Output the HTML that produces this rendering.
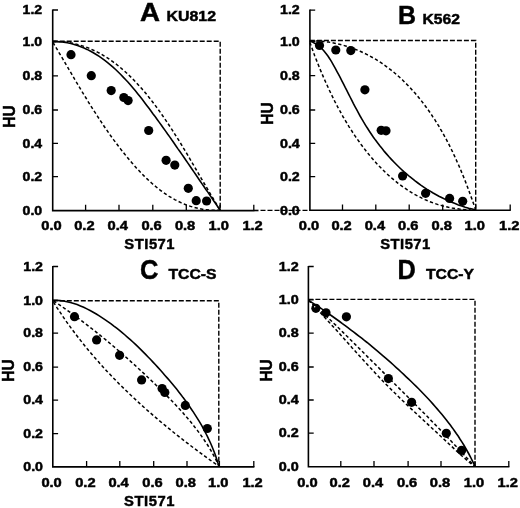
<!DOCTYPE html>
<html><head><meta charset="utf-8"><title>Isobolograms</title>
<style>
html,body{margin:0;padding:0;background:#fff;}
svg{display:block;will-change:transform;}
text{font-family:"Liberation Sans",sans-serif;font-weight:bold;fill:#000;stroke:#000;stroke-width:0.45;}
.ax{fill:none;stroke:#000;stroke-width:1.6;stroke-linejoin:miter;}
.tk{fill:none;stroke:#000;stroke-width:1.3;}
.bx{fill:none;stroke:#000;stroke-width:1.4;stroke-dasharray:5 2;}
.dt{fill:none;stroke:#000;stroke-width:1.5;stroke-dasharray:3.3 2.4;}
.sl{fill:none;stroke:#000;stroke-width:1.6;}
</style></head><body>
<svg width="520" height="508" viewBox="0 0 520 508">
<rect width="520" height="508" fill="#fff"/>
<g><path d="M52.7 9.4 V210.6 H254.4" class="ax"/><path d="M52.7 176.6h5.3M52.7 143.3h5.3M52.7 110.0h5.3M52.7 75.8h5.3M52.7 41.5h5.3M52.7 10.0h5.3M85.6 210.6v-5.8M119.0 210.6v-5.8M152.8 210.6v-5.8M186.3 210.6v-5.8M220.0 210.6v-5.8M253.8 210.6v-5.8" class="tk"/><path d="M52.7 41.3H220.2V210.6" class="bx"/><path d="M52.7 41.6L56.5 41.6L60.3 41.7L64.0 42.0L67.6 42.4L71.2 43.0L74.7 43.7L78.2 44.6L81.6 45.6L85.0 46.7L88.3 47.9L91.5 49.3L94.7 50.8L97.9 52.3L101.0 54.0L104.0 55.8L107.0 57.7L109.9 59.6L112.8 61.7L115.7 63.8L118.5 66.0L121.2 68.3L123.9 70.6L126.6 73.0L129.2 75.5L131.8 78.0L134.3 80.6L136.8 83.2L139.3 85.9L141.7 88.6L144.1 91.3L146.4 94.1L148.7 96.9L151.0 99.8L153.2 102.7L155.4 105.6L157.6 108.6L159.7 111.5L161.8 114.5L163.9 117.5L166.0 120.6L168.0 123.6L170.0 126.6L172.0 129.7L174.0 132.8L175.9 135.8L177.9 138.9L179.8 142.0L181.7 145.1L183.5 148.2L185.4 151.3L187.3 154.4L189.1 157.5L190.9 160.6L192.8 163.8L194.6 166.9L196.4 170.0L198.2 173.1L200.0 176.2L201.8 179.3L203.6 182.5L205.5 185.6L207.3 188.7L209.1 191.8L210.9 194.9L212.8 197.9L214.6 201.0L216.5 204.1L218.3 207.2L220.2 210.2" class="dt"/><path d="M53.0 42.5L54.8 45.6L56.7 48.7L58.5 51.8L60.4 54.9L62.2 57.9L64.0 61.0L65.8 64.1L67.6 67.2L69.4 70.3L71.3 73.4L73.1 76.5L74.9 79.6L76.7 82.7L78.6 85.8L80.4 88.8L82.2 91.9L84.1 95.0L86.0 98.0L87.8 101.1L89.7 104.1L91.6 107.2L93.5 110.2L95.5 113.2L97.4 116.2L99.4 119.2L101.4 122.2L103.4 125.2L105.4 128.2L107.5 131.1L109.5 134.1L111.6 137.0L113.7 139.9L115.9 142.8L118.1 145.7L120.3 148.6L122.5 151.4L124.8 154.3L127.1 157.1L129.4 159.9L131.8 162.7L134.2 165.4L136.6 168.2L139.1 170.8L141.6 173.5L144.2 176.1L146.8 178.6L149.4 181.1L152.1 183.5L154.8 185.8L157.6 188.1L160.4 190.3L163.2 192.4L166.2 194.4L169.1 196.3L172.1 198.1L175.2 199.8L178.3 201.4L181.4 202.9L184.7 204.3L187.9 205.5L191.3 206.6L194.6 207.6L198.1 208.4L201.6 209.1L205.1 209.7L208.8 210.0L212.4 210.3L216.2 210.3L220.0 210.2" class="dt"/><path d="M52.7 41.6L56.5 41.6L60.1 41.8L63.7 42.2L67.3 42.8L70.8 43.5L74.2 44.4L77.5 45.5L80.8 46.7L84.0 48.0L87.1 49.4L90.2 51.0L93.3 52.7L96.2 54.5L99.2 56.4L102.0 58.4L104.8 60.4L107.6 62.6L110.3 64.8L113.0 67.1L115.6 69.5L118.2 72.0L120.7 74.5L123.2 77.1L125.7 79.7L128.1 82.3L130.5 85.1L132.8 87.8L135.2 90.6L137.5 93.4L139.8 96.3L142.0 99.1L144.2 102.0L146.4 104.9L148.6 107.8L150.8 110.7L152.9 113.7L155.1 116.6L157.2 119.5L159.3 122.4L161.4 125.3L163.5 128.2L165.6 131.1L167.6 134.0L169.7 136.9L171.7 139.8L173.8 142.7L175.8 145.7L177.8 148.6L179.9 151.5L181.9 154.4L183.9 157.3L185.9 160.2L187.9 163.1L189.9 166.0L191.9 169.0L193.9 171.9L195.9 174.8L197.9 177.7L199.9 180.7L201.9 183.6L203.9 186.5L205.9 189.5L208.0 192.4L210.0 195.4L212.0 198.3L214.0 201.3L216.1 204.3L218.1 207.2L220.2 210.2" class="sl"/><circle cx="71.0" cy="54.7" r="4.6"/><circle cx="91.3" cy="75.7" r="4.6"/><circle cx="111.2" cy="90.6" r="4.6"/><circle cx="123.8" cy="97.5" r="4.6"/><circle cx="128.1" cy="100.6" r="4.6"/><circle cx="148.7" cy="130.5" r="4.6"/><circle cx="166.1" cy="160.3" r="4.6"/><circle cx="174.8" cy="165.1" r="4.6"/><circle cx="188.3" cy="188.3" r="4.6"/><circle cx="196.2" cy="200.7" r="4.6"/><circle cx="206.6" cy="201.0" r="4.6"/></g>
<text x="22.6" y="214.7" font-size="12.0" textLength="19.6" lengthAdjust="spacingAndGlyphs">0.0</text>
<text x="22.6" y="180.8" font-size="12.0" textLength="19.6" lengthAdjust="spacingAndGlyphs">0.2</text>
<text x="22.6" y="147.5" font-size="12.0" textLength="19.6" lengthAdjust="spacingAndGlyphs">0.4</text>
<text x="22.6" y="114.2" font-size="12.0" textLength="19.6" lengthAdjust="spacingAndGlyphs">0.6</text>
<text x="22.6" y="80.0" font-size="12.0" textLength="19.6" lengthAdjust="spacingAndGlyphs">0.8</text>
<text x="22.6" y="45.7" font-size="12.0" textLength="19.6" lengthAdjust="spacingAndGlyphs">1.0</text>
<text x="22.6" y="14.2" font-size="12.0" textLength="19.6" lengthAdjust="spacingAndGlyphs">1.2</text>
<text x="41.3" y="229.8" font-size="12.0" textLength="20.4" lengthAdjust="spacingAndGlyphs">0.0</text>
<text x="74.2" y="229.8" font-size="12.0" textLength="20.4" lengthAdjust="spacingAndGlyphs">0.2</text>
<text x="107.6" y="229.8" font-size="12.0" textLength="20.4" lengthAdjust="spacingAndGlyphs">0.4</text>
<text x="141.4" y="229.8" font-size="12.0" textLength="20.4" lengthAdjust="spacingAndGlyphs">0.6</text>
<text x="174.9" y="229.8" font-size="12.0" textLength="20.4" lengthAdjust="spacingAndGlyphs">0.8</text>
<text x="208.6" y="229.8" font-size="12.0" textLength="20.4" lengthAdjust="spacingAndGlyphs">1.0</text>
<text x="242.4" y="229.8" font-size="12.0" textLength="20.4" lengthAdjust="spacingAndGlyphs">1.2</text>
<g><path d="M309.9 9.6 V210.3 H510.8" class="ax"/><path d="M309.9 176.6h5.3M309.9 143.3h5.3M309.9 110.0h5.3M309.9 75.6h5.3M309.9 41.3h5.3M309.9 10.2h5.3M342.5 210.3v-5.8M375.8 210.3v-5.8M409.2 210.3v-5.8M442.7 210.3v-5.8M475.7 210.3v-5.8M510.2 210.3v-5.8" class="tk"/><path d="M309.9 40.5H475.7V210.3" class="bx"/><path d="M309.9 40.8L313.7 40.8L317.4 41.0L321.1 41.2L324.8 41.6L328.5 42.1L332.2 42.7L335.8 43.4L339.4 44.2L342.9 45.1L346.4 46.2L349.9 47.3L353.4 48.5L356.8 49.9L360.2 51.3L363.5 52.8L366.7 54.4L370.0 56.1L373.2 57.9L376.3 59.7L379.4 61.7L382.4 63.7L385.4 65.8L388.3 68.0L391.2 70.2L394.1 72.5L396.9 74.9L399.6 77.3L402.3 79.8L404.9 82.4L407.5 85.0L410.1 87.6L412.5 90.3L415.0 93.1L417.4 95.9L419.7 98.7L422.0 101.6L424.2 104.5L426.4 107.5L428.6 110.5L430.7 113.5L432.7 116.6L434.8 119.7L436.7 122.8L438.7 125.9L440.5 129.1L442.4 132.3L444.2 135.6L446.0 138.8L447.7 142.1L449.4 145.4L451.0 148.7L452.7 152.1L454.2 155.4L455.8 158.8L457.3 162.2L458.8 165.5L460.3 168.9L461.7 172.4L463.1 175.8L464.5 179.2L465.8 182.6L467.1 186.0L468.4 189.5L469.7 192.9L470.9 196.3L472.2 199.8L473.4 203.2L474.5 206.6L475.7 210.0" class="dt"/><path d="M309.9 42.5L311.1 45.8L312.3 49.1L313.5 52.4L314.7 55.7L316.0 59.0L317.3 62.3L318.6 65.6L319.9 68.9L321.3 72.1L322.7 75.4L324.1 78.7L325.6 82.0L327.1 85.3L328.6 88.6L330.1 91.8L331.7 95.1L333.3 98.3L334.9 101.6L336.6 104.8L338.2 108.0L340.0 111.1L341.7 114.3L343.5 117.5L345.4 120.6L347.2 123.7L349.1 126.8L351.1 129.8L353.0 132.9L355.0 135.9L357.1 138.9L359.2 141.8L361.3 144.8L363.5 147.6L365.7 150.5L367.9 153.3L370.2 156.1L372.5 158.8L374.9 161.5L377.3 164.2L379.8 166.8L382.3 169.3L384.8 171.8L387.4 174.2L390.0 176.6L392.7 178.9L395.4 181.1L398.1 183.3L400.9 185.4L403.8 187.5L406.7 189.4L409.6 191.3L412.6 193.2L415.6 194.9L418.7 196.5L421.8 198.1L425.0 199.6L428.2 201.0L431.5 202.3L434.8 203.5L438.1 204.6L441.6 205.6L445.0 206.5L448.5 207.3L452.1 208.0L455.7 208.6L459.4 209.1L463.1 209.4L466.9 209.7L470.7 209.8" class="dt"/><path d="M309.6 40.9L313.0 42.3L316.0 44.1L318.9 46.1L321.5 48.3L323.8 50.8L326.0 53.5L328.1 56.3L330.0 59.2L331.8 62.2L333.6 65.3L335.3 68.4L337.0 71.6L338.7 74.7L340.4 77.9L342.0 81.1L343.6 84.2L345.2 87.4L346.9 90.6L348.5 93.8L350.1 97.0L351.7 100.2L353.3 103.4L355.0 106.6L356.7 109.7L358.4 112.9L360.1 116.0L361.9 119.1L363.7 122.2L365.6 125.3L367.5 128.3L369.4 131.3L371.4 134.3L373.4 137.2L375.5 140.1L377.7 143.0L379.8 145.8L382.1 148.6L384.3 151.4L386.7 154.1L389.0 156.8L391.4 159.4L393.9 162.0L396.4 164.5L398.9 167.0L401.5 169.5L404.1 171.9L406.8 174.2L409.5 176.5L412.3 178.7L415.1 180.9L417.9 183.0L420.8 185.1L423.7 187.1L426.7 189.1L429.7 190.9L432.7 192.8L435.8 194.5L438.9 196.2L442.1 197.8L445.3 199.4L448.5 200.9L451.8 202.3L455.1 203.6L458.4 204.9L461.8 206.0L465.2 207.2L468.7 208.2L472.2 209.1L475.7 210.0" class="sl"/><circle cx="319.5" cy="45.5" r="4.6"/><circle cx="335.8" cy="50.0" r="4.6"/><circle cx="350.8" cy="50.6" r="4.6"/><circle cx="364.9" cy="89.8" r="4.6"/><circle cx="381.2" cy="130.3" r="4.6"/><circle cx="386.0" cy="130.8" r="4.6"/><circle cx="402.6" cy="176.0" r="4.6"/><circle cx="425.6" cy="193.3" r="4.6"/><circle cx="449.6" cy="198.4" r="4.6"/><circle cx="462.7" cy="201.3" r="4.6"/></g>
<text x="280.0" y="214.5" font-size="12.0" textLength="19.8" lengthAdjust="spacingAndGlyphs">0.0</text>
<text x="280.0" y="180.8" font-size="12.0" textLength="19.8" lengthAdjust="spacingAndGlyphs">0.2</text>
<text x="280.0" y="147.5" font-size="12.0" textLength="19.8" lengthAdjust="spacingAndGlyphs">0.4</text>
<text x="280.0" y="114.2" font-size="12.0" textLength="19.8" lengthAdjust="spacingAndGlyphs">0.6</text>
<text x="280.0" y="79.8" font-size="12.0" textLength="19.8" lengthAdjust="spacingAndGlyphs">0.8</text>
<text x="280.0" y="45.5" font-size="12.0" textLength="19.8" lengthAdjust="spacingAndGlyphs">1.0</text>
<text x="280.0" y="14.4" font-size="12.0" textLength="19.8" lengthAdjust="spacingAndGlyphs">1.2</text>
<text x="298.8" y="229.9" font-size="12.0" textLength="20.4" lengthAdjust="spacingAndGlyphs">0.0</text>
<text x="331.4" y="229.9" font-size="12.0" textLength="20.4" lengthAdjust="spacingAndGlyphs">0.2</text>
<text x="364.7" y="229.9" font-size="12.0" textLength="20.4" lengthAdjust="spacingAndGlyphs">0.4</text>
<text x="398.1" y="229.9" font-size="12.0" textLength="20.4" lengthAdjust="spacingAndGlyphs">0.6</text>
<text x="431.6" y="229.9" font-size="12.0" textLength="20.4" lengthAdjust="spacingAndGlyphs">0.8</text>
<text x="464.6" y="229.9" font-size="12.0" textLength="20.4" lengthAdjust="spacingAndGlyphs">1.0</text>
<text x="499.1" y="229.9" font-size="12.0" textLength="20.4" lengthAdjust="spacingAndGlyphs">1.2</text>
<g><path d="M52.8 265.9 V466.9 H254.4" class="ax"/><path d="M52.8 433.6h5.3M52.8 400.2h5.3M52.8 367.1h5.3M52.8 333.2h5.3M52.8 300.3h5.3M52.8 266.5h5.3M86.6 466.9v-5.8M119.8 466.9v-5.8M153.7 466.9v-5.8M187.0 466.9v-5.8M219.4 466.9v-5.8M253.8 466.9v-5.8" class="tk"/><path d="M52.8 300.8H218.8V466.9" class="bx"/><path d="M53.5 300.8L56.4 302.7L59.2 304.7L62.0 306.6L64.8 308.6L67.6 310.6L70.4 312.6L73.2 314.6L76.0 316.6L78.7 318.6L81.4 320.7L84.2 322.8L86.9 324.8L89.6 326.9L92.3 329.0L95.0 331.2L97.6 333.3L100.3 335.4L102.9 337.6L105.6 339.7L108.2 341.9L110.8 344.1L113.4 346.3L116.0 348.5L118.6 350.8L121.2 353.0L123.8 355.2L126.3 357.5L128.9 359.8L131.4 362.1L134.0 364.4L136.5 366.7L139.0 369.0L141.5 371.3L144.0 373.6L146.5 376.0L149.0 378.4L151.5 380.7L154.0 383.1L156.4 385.5L158.9 387.9L161.3 390.3L163.8 392.7L166.2 395.2L168.6 397.6L171.0 400.1L173.4 402.5L175.7 405.0L178.1 407.5L180.4 410.1L182.7 412.6L184.9 415.2L187.2 417.8L189.4 420.4L191.6 423.0L193.7 425.7L195.8 428.4L197.9 431.1L199.9 433.8L201.9 436.6L203.8 439.4L205.7 442.2L207.6 445.0L209.4 447.9L211.1 450.8L212.8 453.8L214.4 456.8L216.0 459.8L217.5 462.9L218.9 466.0" class="dt"/><path d="M53.5 302.0L55.3 304.9L57.1 307.8L59.0 310.6L60.9 313.4L62.8 316.3L64.7 319.1L66.6 321.9L68.6 324.6L70.6 327.4L72.6 330.1L74.6 332.8L76.7 335.5L78.8 338.2L80.9 340.9L83.0 343.5L85.1 346.2L87.2 348.8L89.4 351.4L91.6 354.0L93.8 356.5L96.0 359.1L98.3 361.6L100.5 364.2L102.8 366.7L105.1 369.2L107.4 371.7L109.7 374.1L112.1 376.6L114.4 379.0L116.8 381.4L119.2 383.9L121.6 386.3L124.0 388.6L126.5 391.0L128.9 393.4L131.4 395.7L133.8 398.0L136.3 400.3L138.8 402.6L141.3 404.9L143.9 407.2L146.4 409.5L149.0 411.7L151.5 413.9L154.1 416.2L156.7 418.4L159.3 420.6L161.9 422.8L164.5 424.9L167.1 427.1L169.7 429.2L172.4 431.4L175.0 433.5L177.7 435.6L180.4 437.7L183.1 439.8L185.7 441.9L188.4 443.9L191.1 446.0L193.8 448.1L196.6 450.1L199.3 452.1L202.0 454.1L204.7 456.1L207.5 458.1L210.2 460.1L213.0 462.1L215.7 464.0L218.5 466.0" class="dt"/><path d="M52.8 300.2L56.4 300.3L60.0 300.6L63.5 301.0L67.0 301.7L70.4 302.5L73.8 303.5L77.1 304.6L80.4 305.9L83.7 307.3L86.9 308.9L90.1 310.5L93.2 312.2L96.3 314.0L99.3 315.9L102.3 317.8L105.3 319.8L108.2 321.8L111.1 323.9L113.9 326.1L116.7 328.2L119.5 330.4L122.2 332.7L125.0 335.0L127.6 337.3L130.3 339.6L132.9 342.0L135.5 344.4L138.1 346.9L140.6 349.4L143.1 351.9L145.6 354.4L148.1 357.0L150.6 359.5L153.0 362.1L155.5 364.8L157.9 367.4L160.3 370.0L162.7 372.7L165.0 375.4L167.4 378.1L169.7 380.8L172.0 383.6L174.3 386.3L176.6 389.1L178.8 391.9L181.0 394.7L183.1 397.6L185.3 400.4L187.4 403.3L189.4 406.2L191.4 409.2L193.4 412.1L195.3 415.1L197.2 418.1L199.1 421.1L200.9 424.2L202.6 427.2L204.3 430.3L205.9 433.5L207.5 436.6L209.0 439.8L210.5 443.0L211.9 446.3L213.2 449.5L214.5 452.8L215.7 456.1L216.8 459.5L217.9 462.9L218.9 466.3" class="sl"/><circle cx="74.5" cy="316.7" r="4.6"/><circle cx="96.6" cy="339.9" r="4.6"/><circle cx="119.6" cy="355.3" r="4.6"/><circle cx="141.6" cy="379.9" r="4.6"/><circle cx="162.1" cy="388.5" r="4.6"/><circle cx="164.8" cy="392.5" r="4.6"/><circle cx="185.3" cy="405.4" r="4.6"/><circle cx="207.3" cy="428.5" r="4.6"/></g>
<text x="23.3" y="471.1" font-size="12.0" textLength="19.7" lengthAdjust="spacingAndGlyphs">0.0</text>
<text x="23.3" y="437.8" font-size="12.0" textLength="19.7" lengthAdjust="spacingAndGlyphs">0.2</text>
<text x="23.3" y="404.4" font-size="12.0" textLength="19.7" lengthAdjust="spacingAndGlyphs">0.4</text>
<text x="23.3" y="371.3" font-size="12.0" textLength="19.7" lengthAdjust="spacingAndGlyphs">0.6</text>
<text x="23.3" y="337.4" font-size="12.0" textLength="19.7" lengthAdjust="spacingAndGlyphs">0.8</text>
<text x="23.3" y="304.5" font-size="12.0" textLength="19.7" lengthAdjust="spacingAndGlyphs">1.0</text>
<text x="23.3" y="270.7" font-size="12.0" textLength="19.7" lengthAdjust="spacingAndGlyphs">1.2</text>
<text x="41.4" y="486.8" font-size="12.0" textLength="20.4" lengthAdjust="spacingAndGlyphs">0.0</text>
<text x="75.2" y="486.8" font-size="12.0" textLength="20.4" lengthAdjust="spacingAndGlyphs">0.2</text>
<text x="108.4" y="486.8" font-size="12.0" textLength="20.4" lengthAdjust="spacingAndGlyphs">0.4</text>
<text x="142.3" y="486.8" font-size="12.0" textLength="20.4" lengthAdjust="spacingAndGlyphs">0.6</text>
<text x="175.6" y="486.8" font-size="12.0" textLength="20.4" lengthAdjust="spacingAndGlyphs">0.8</text>
<text x="208.0" y="486.8" font-size="12.0" textLength="20.4" lengthAdjust="spacingAndGlyphs">1.0</text>
<text x="242.4" y="486.8" font-size="12.0" textLength="20.4" lengthAdjust="spacingAndGlyphs">1.2</text>
<g><path d="M308.4 265.9 V466.8 H509.4" class="ax"/><path d="M308.4 433.2h5.3M308.4 400.0h5.3M308.4 367.0h5.3M308.4 333.2h5.3M308.4 299.8h5.3M308.4 266.5h5.3M340.8 466.8v-5.8M374.0 466.8v-5.8M408.1 466.8v-5.8M441.0 466.8v-5.8M475.0 466.8v-5.8M508.8 466.8v-5.8" class="tk"/><path d="M308.4 299.4H475.0V466.8" class="bx"/><path d="M308.4 300.2L311.0 302.4L313.6 304.6L316.1 306.9L318.6 309.1L321.2 311.4L323.7 313.7L326.1 316.0L328.6 318.4L331.1 320.7L333.5 323.1L336.0 325.4L338.4 327.8L340.9 330.2L343.3 332.6L345.7 335.0L348.1 337.3L350.5 339.7L353.0 342.2L355.4 344.6L357.8 347.0L360.2 349.4L362.6 351.8L365.0 354.2L367.4 356.6L369.8 359.0L372.2 361.4L374.7 363.8L377.1 366.2L379.5 368.6L381.9 371.0L384.3 373.4L386.7 375.8L389.1 378.3L391.5 380.7L393.9 383.1L396.3 385.5L398.7 387.9L401.1 390.3L403.6 392.7L406.0 395.1L408.4 397.5L410.8 399.9L413.2 402.3L415.6 404.8L418.0 407.2L420.4 409.6L422.8 412.0L425.2 414.4L427.6 416.8L429.9 419.3L432.3 421.7L434.7 424.1L437.1 426.6L439.5 429.0L441.8 431.5L444.2 433.9L446.6 436.4L448.9 438.8L451.3 441.3L453.6 443.7L456.0 446.2L458.3 448.7L460.6 451.2L463.0 453.7L465.3 456.2L467.6 458.7L469.9 461.2L472.2 463.7L474.5 466.2" class="dt"/><path d="M308.4 300.2L310.8 302.6L313.1 305.1L315.5 307.6L317.8 310.0L320.2 312.5L322.5 315.0L324.8 317.5L327.1 320.0L329.4 322.5L331.7 325.1L334.0 327.6L336.3 330.1L338.6 332.6L340.9 335.2L343.1 337.7L345.4 340.2L347.7 342.8L350.0 345.3L352.2 347.9L354.5 350.4L356.8 352.9L359.1 355.5L361.4 358.0L363.7 360.5L366.0 363.0L368.3 365.5L370.6 368.0L372.9 370.5L375.2 373.0L377.6 375.5L379.9 378.0L382.3 380.4L384.6 382.9L387.0 385.3L389.4 387.7L391.8 390.1L394.3 392.5L396.7 394.9L399.1 397.3L401.6 399.7L404.1 402.0L406.5 404.4L409.0 406.7L411.5 409.1L414.0 411.4L416.5 413.8L419.0 416.1L421.5 418.4L424.0 420.7L426.5 423.1L429.0 425.4L431.5 427.7L434.0 430.0L436.5 432.3L439.0 434.6L441.5 437.0L444.0 439.3L446.5 441.6L449.0 444.0L451.5 446.3L454.0 448.6L456.5 450.9L459.0 453.2L461.5 455.5L464.1 457.7L466.6 459.9L469.2 462.1L471.8 464.3L474.5 466.4" class="dt"/><path d="M308.4 300.2L311.3 302.1L314.1 303.9L317.0 305.8L319.9 307.7L322.7 309.7L325.5 311.6L328.4 313.6L331.2 315.5L334.0 317.5L336.8 319.5L339.6 321.5L342.4 323.6L345.2 325.6L347.9 327.7L350.7 329.8L353.5 331.9L356.2 334.0L358.9 336.1L361.7 338.2L364.4 340.4L367.1 342.5L369.8 344.7L372.4 346.9L375.1 349.1L377.8 351.4L380.4 353.6L383.0 355.8L385.7 358.1L388.3 360.4L390.9 362.7L393.5 365.0L396.0 367.3L398.6 369.7L401.1 372.0L403.7 374.4L406.2 376.8L408.7 379.1L411.2 381.5L413.7 384.0L416.2 386.4L418.6 388.8L421.0 391.3L423.4 393.8L425.8 396.3L428.2 398.8L430.5 401.3L432.8 403.9L435.1 406.5L437.4 409.1L439.6 411.7L441.8 414.3L444.0 417.0L446.2 419.7L448.3 422.4L450.3 425.1L452.4 427.9L454.4 430.7L456.3 433.5L458.3 436.3L460.1 439.2L462.0 442.1L463.8 445.0L465.5 448.0L467.2 451.0L468.9 454.0L470.5 457.0L472.0 460.1L473.5 463.2L475.0 466.4" class="sl"/><circle cx="315.9" cy="308.3" r="4.6"/><circle cx="326.0" cy="312.8" r="4.6"/><circle cx="346.4" cy="316.8" r="4.6"/><circle cx="388.4" cy="378.6" r="4.6"/><circle cx="411.6" cy="402.3" r="4.6"/><circle cx="446.3" cy="433.3" r="4.6"/><circle cx="461.6" cy="450.4" r="4.6"/></g>
<text x="278.8" y="471.0" font-size="12.0" textLength="20.0" lengthAdjust="spacingAndGlyphs">0.0</text>
<text x="278.8" y="437.4" font-size="12.0" textLength="20.0" lengthAdjust="spacingAndGlyphs">0.2</text>
<text x="278.8" y="404.2" font-size="12.0" textLength="20.0" lengthAdjust="spacingAndGlyphs">0.4</text>
<text x="278.8" y="371.2" font-size="12.0" textLength="20.0" lengthAdjust="spacingAndGlyphs">0.6</text>
<text x="278.8" y="337.4" font-size="12.0" textLength="20.0" lengthAdjust="spacingAndGlyphs">0.8</text>
<text x="278.8" y="304.0" font-size="12.0" textLength="20.0" lengthAdjust="spacingAndGlyphs">1.0</text>
<text x="278.8" y="270.7" font-size="12.0" textLength="20.0" lengthAdjust="spacingAndGlyphs">1.2</text>
<text x="297.2" y="486.6" font-size="12.0" textLength="20.4" lengthAdjust="spacingAndGlyphs">0.0</text>
<text x="329.6" y="486.6" font-size="12.0" textLength="20.4" lengthAdjust="spacingAndGlyphs">0.2</text>
<text x="362.8" y="486.6" font-size="12.0" textLength="20.4" lengthAdjust="spacingAndGlyphs">0.4</text>
<text x="396.9" y="486.6" font-size="12.0" textLength="20.4" lengthAdjust="spacingAndGlyphs">0.6</text>
<text x="429.8" y="486.6" font-size="12.0" textLength="20.4" lengthAdjust="spacingAndGlyphs">0.8</text>
<text x="463.8" y="486.6" font-size="12.0" textLength="20.4" lengthAdjust="spacingAndGlyphs">1.0</text>
<text x="497.6" y="486.6" font-size="12.0" textLength="20.4" lengthAdjust="spacingAndGlyphs">1.2</text>
<path d="M254 210.5H258.5" class="ax"/><path d="M260.5 210.4H310" class="bx"/>
<circle cx="314.7" cy="306.8" r="0.7" fill="#fff"/><circle cx="320.9" cy="310.3" r="0.8" fill="#fff"/>
<text x="140.0" y="21.3" font-size="25.8" textLength="20.0" lengthAdjust="spacingAndGlyphs">A</text>
<text x="166.5" y="21.3" font-size="14.0" textLength="49.5" lengthAdjust="spacingAndGlyphs">KU812</text>
<text x="398.0" y="23.7" font-size="26.0" textLength="18.0" lengthAdjust="spacingAndGlyphs">B</text>
<text x="422.5" y="23.8" font-size="14.8" textLength="37.5" lengthAdjust="spacingAndGlyphs">K562</text>
<text x="140.0" y="279.3" font-size="27.0" textLength="18.4" lengthAdjust="spacingAndGlyphs">C</text>
<text x="168.5" y="279.3" font-size="14.8" textLength="48.0" lengthAdjust="spacingAndGlyphs">TCC-S</text>
<text x="397.5" y="279.3" font-size="27.0" textLength="18.3" lengthAdjust="spacingAndGlyphs">D</text>
<text x="426.0" y="279.3" font-size="14.8" textLength="48.0" lengthAdjust="spacingAndGlyphs">TCC-Y</text>
<text x="124.3" y="249.2" font-size="14.8" textLength="50.3" lengthAdjust="spacing">STI571</text>
<text x="380.3" y="248.8" font-size="14.8" textLength="49.9" lengthAdjust="spacing">STI571</text>
<text x="124.1" y="505.5" font-size="14.8" textLength="50.5" lengthAdjust="spacing">STI571</text>
<text transform="translate(14.8 116.5) rotate(-90)" font-size="17" text-anchor="middle" textLength="22.4" lengthAdjust="spacingAndGlyphs" stroke-width="0.15">HU</text>
<text transform="translate(272.9 113.6) rotate(-90)" font-size="17" text-anchor="middle" textLength="22.4" lengthAdjust="spacingAndGlyphs" stroke-width="0.15">HU</text>
<text transform="translate(13.8 370.5) rotate(-90)" font-size="17" text-anchor="middle" textLength="22.4" lengthAdjust="spacingAndGlyphs" stroke-width="0.15">HU</text>
<text transform="translate(271.9 370.4) rotate(-90)" font-size="17" text-anchor="middle" textLength="22.4" lengthAdjust="spacingAndGlyphs" stroke-width="0.15">HU</text>
</svg>
</body></html>
